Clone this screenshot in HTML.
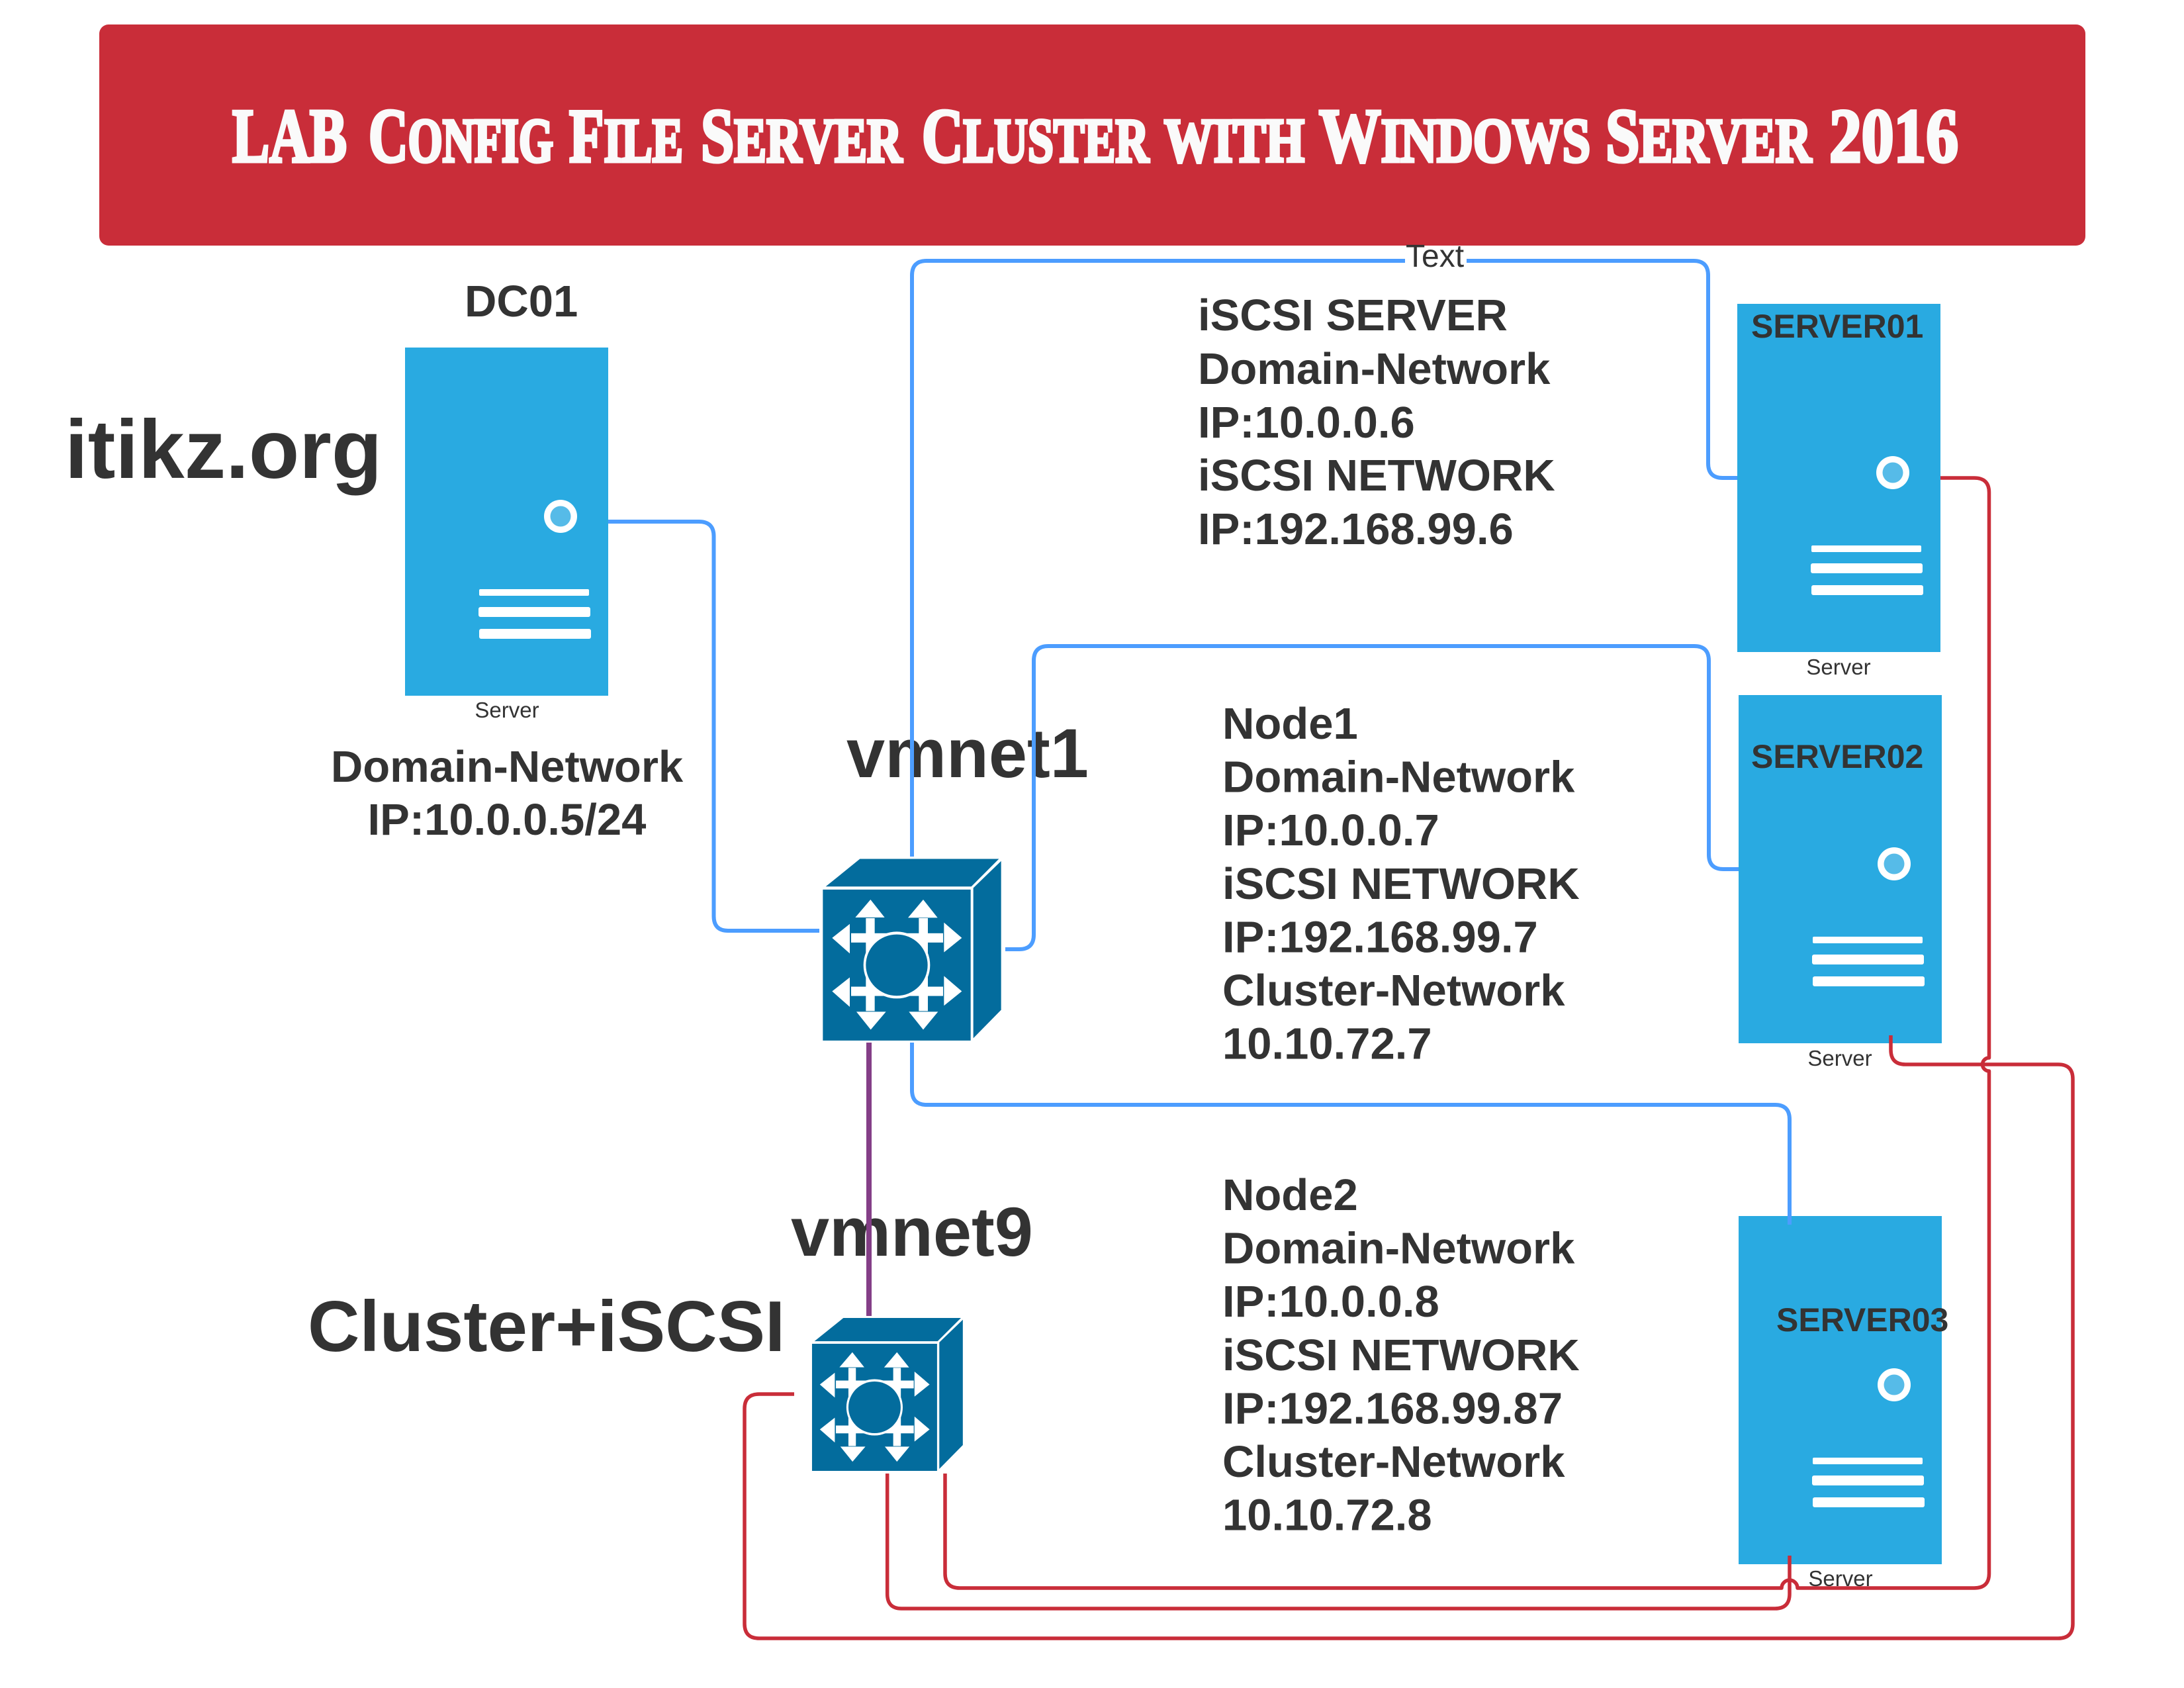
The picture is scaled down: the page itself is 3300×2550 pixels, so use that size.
<!DOCTYPE html>
<html><head><meta charset="utf-8"><title>LAB Config File Server Cluster</title>
<style>
html,body{margin:0;padding:0;background:#fff}
svg{display:block}
text{font-family:"Liberation Sans",sans-serif;fill:#333}
.b{font-weight:700}
.t{font-size:67px;font-weight:700}
.s{font-size:33px}
.h{font-size:50px;font-weight:700}
.w{font-family:"Liberation Serif",serif;font-weight:700;fill:#fafafa;stroke:#fafafa;stroke-width:5px;font-size:116px}
.w tspan{font-size:94px}
.c{fill:none;stroke-linejoin:round}
.bl{stroke:#4c9dff;stroke-width:6}
.rd{stroke:#c92d39;stroke-width:5.5}
</style></head>
<body>
<svg xmlns="http://www.w3.org/2000/svg" width="3300" height="2550" viewBox="0 0 3300 2550">
<defs>
<g id="srv">
<rect x="612" y="525" width="307" height="526" fill="#29aae1"/>
<circle cx="847" cy="780" r="25" fill="#fff"/>
<circle cx="847" cy="780" r="15.5" fill="#56bbe8"/>
<rect x="724" y="890" width="166" height="10" rx="2" fill="#fff"/>
<rect x="723" y="917" width="169" height="15" rx="3" fill="#fff"/>
<rect x="724" y="950" width="169" height="15" rx="3" fill="#fff"/>
</g>
<g id="sw">
<rect x="430" y="695" width="670" height="650" fill="#036c9d"/>
<polygon points="443,682 598,563 1228,563 1103,682" fill="#036c9d"/>
<polygon points="1112,688 1238,572 1238,1213 1112,1335" fill="#036c9d"/>
<g fill="#fff">
<rect x="558" y="883" width="417" height="40"/>
<rect x="558" y="1113" width="417" height="40"/>
<rect x="625" y="818" width="40" height="400"/>
<rect x="865" y="818" width="41" height="400"/>
<polygon points="577,815 646,738 710,815"/>
<polygon points="816,816 885,738 950,816"/>
<polygon points="552,843 472,903 552,970"/>
<polygon points="552,1073 472,1133 552,1200"/>
<polygon points="979,837 1060,903 979,965"/>
<polygon points="979,1067 1060,1133 979,1195"/>
<polygon points="582,1221 647,1298 716,1221"/>
<polygon points="820,1221 885,1298 952,1221"/>
<ellipse cx="765" cy="1020" rx="151" ry="144"/>
</g>
<ellipse cx="765" cy="1020" rx="140" ry="132" fill="#036c9d"/>
</g>
</defs>

<!-- banner -->
<rect x="150" y="37" width="3001" height="334" rx="14" fill="#c92d39"/>
<text class="w" y="244" x="351" textLength="173" lengthAdjust="spacingAndGlyphs">LAB</text>
<text class="w" y="244" x="557" textLength="279" lengthAdjust="spacingAndGlyphs">C<tspan>ONFIG</tspan></text>
<text class="w" y="244" x="860" textLength="172" lengthAdjust="spacingAndGlyphs">F<tspan>ILE</tspan></text>
<text class="w" y="244" x="1059" textLength="304" lengthAdjust="spacingAndGlyphs">S<tspan>ERVER</tspan></text>
<text class="w" y="244" x="1393" textLength="343" lengthAdjust="spacingAndGlyphs">C<tspan>LUSTER</tspan></text>
<text class="w" y="244" x="1759" textLength="212" lengthAdjust="spacingAndGlyphs"><tspan>WITH</tspan></text>
<text class="w" y="244" x="1993" textLength="410" lengthAdjust="spacingAndGlyphs">W<tspan>INDOWS</tspan></text>
<text class="w" y="244" x="2426" textLength="311" lengthAdjust="spacingAndGlyphs">S<tspan>ERVER</tspan></text>
<text class="w" y="244" x="2764" textLength="195" lengthAdjust="spacingAndGlyphs">2016</text>

<!-- servers -->
<use href="#srv"/>
<use href="#srv" transform="translate(2013,-66)"/>
<use href="#srv" transform="translate(2015,525)"/>
<use href="#srv" transform="translate(2015,1312)"/>

<!-- switches -->
<use href="#sw" transform="translate(1100,1100) scale(.33333,.35088)"/>
<use href="#sw" transform="translate(1105.7,1824.7) scale(.282,.2954)"/>

<!-- labels -->
<text class="t" x="702" y="478">DC01</text>
<text class="s" x="766" y="1084" text-anchor="middle">Server</text>
<text class="s" x="2778" y="1019" text-anchor="middle">Server</text>
<text class="s" x="2780" y="1610" text-anchor="middle">Server</text>
<text class="s" x="2781" y="2396" text-anchor="middle">Server</text>
<text class="h" x="2646" y="510">SERVER01</text>
<text class="h" x="2646" y="1160">SERVER02</text>
<text class="h" x="2684" y="2011">SERVER03</text>
<text class="b" x="98" y="722" font-size="125">itikz.org</text>
<text class="b" x="1279" y="1174" font-size="104.5">vmnet1</text>
<text class="b" x="1195" y="1897" font-size="104.5">vmnet9</text>
<text class="b" x="465" y="2041" font-size="108.600">Cluster+iSCSI</text>
<text class="t" x="766" y="1181" text-anchor="middle">Domain-Network</text>
<text class="t" x="766" y="1261" text-anchor="middle">IP:10.0.0.5/24</text>

<text class="t" x="1810" y="499">iSCSI SERVER</text>
<text class="t" x="1810" y="580">Domain-Network</text>
<text class="t" x="1810" y="661">IP:10.0.0.6</text>
<text class="t" x="1810" y="741">iSCSI NETWORK</text>
<text class="t" x="1810" y="822">IP:192.168.99.6</text>

<text class="t" x="1847" y="1116">Node1</text>
<text class="t" x="1847" y="1196.6">Domain-Network</text>
<text class="t" x="1847" y="1277.2">IP:10.0.0.7</text>
<text class="t" x="1847" y="1357.8">iSCSI NETWORK</text>
<text class="t" x="1847" y="1438.4">IP:192.168.99.7</text>
<text class="t" x="1847" y="1519">Cluster-Network</text>
<text class="t" x="1847" y="1599.6">10.10.72.7</text>

<text class="t" x="1847" y="1828">Node2</text>
<text class="t" x="1847" y="1908.6">Domain-Network</text>
<text class="t" x="1847" y="1989.2">IP:10.0.0.8</text>
<text class="t" x="1847" y="2069.8">iSCSI NETWORK</text>
<text class="t" x="1847" y="2150.4">IP:192.168.99.87</text>
<text class="t" x="1847" y="2231">Cluster-Network</text>
<text class="t" x="1847" y="2311.6">10.10.72.8</text>

<!-- blue connectors -->
<path class="c bl" d="M1378 1294 V416 Q1378 394 1400 394 H2559 Q2581 394 2581 416 V700 Q2581 722 2603 722 H2625"/>
<path class="c bl" d="M919 788 H1056 Q1078.500 788 1078.500 810 V1384 Q1078.500 1406 1100 1406 H1238"/>
<path class="c bl" d="M1519 1434 H1540 Q1562 1434 1562 1412 V998 Q1562 976 1584 976 H2560 Q2582 976 2582 998 V1291 Q2582 1313 2604 1313 H2627"/>
<path class="c bl" d="M1378 1575 V1647 Q1378 1669 1400 1669 H2682 Q2704 1669 2704 1691 V1850"/>

<!-- purple -->
<line x1="1313" y1="1575" x2="1313" y2="1988" stroke="#843f87" stroke-width="8"/>

<!-- red connectors -->
<path class="c rd" d="M2857 1564 V1586 Q2857 1608 2879 1608 H3110 Q3132 1608 3132 1630 V2453 Q3132 2475 3110 2475 H1147 Q1125 2475 1125 2453 V2128 Q1125 2106 1147 2106 H1200"/>
<path class="c rd" d="M2932 722 H2983 Q3005.500 722 3005.500 744 V1598 A10 10 0 0 0 3005.500 1618 V2377 Q3005.500 2399 2983 2399 H2716 A12 12 0 0 0 2692 2399 H1450 Q1428 2399 1428 2377 V2226"/>
<path class="c rd" d="M1340.700 2226 V2408 Q1340.700 2430 1362 2430 H2682 Q2704 2430 2704 2408 V2350"/>

<!-- edge label -->
<rect x="2123" y="385" width="93" height="18" fill="#fff"/>
<text x="2124" y="403" font-size="48">Text</text>
</svg>
</body></html>
